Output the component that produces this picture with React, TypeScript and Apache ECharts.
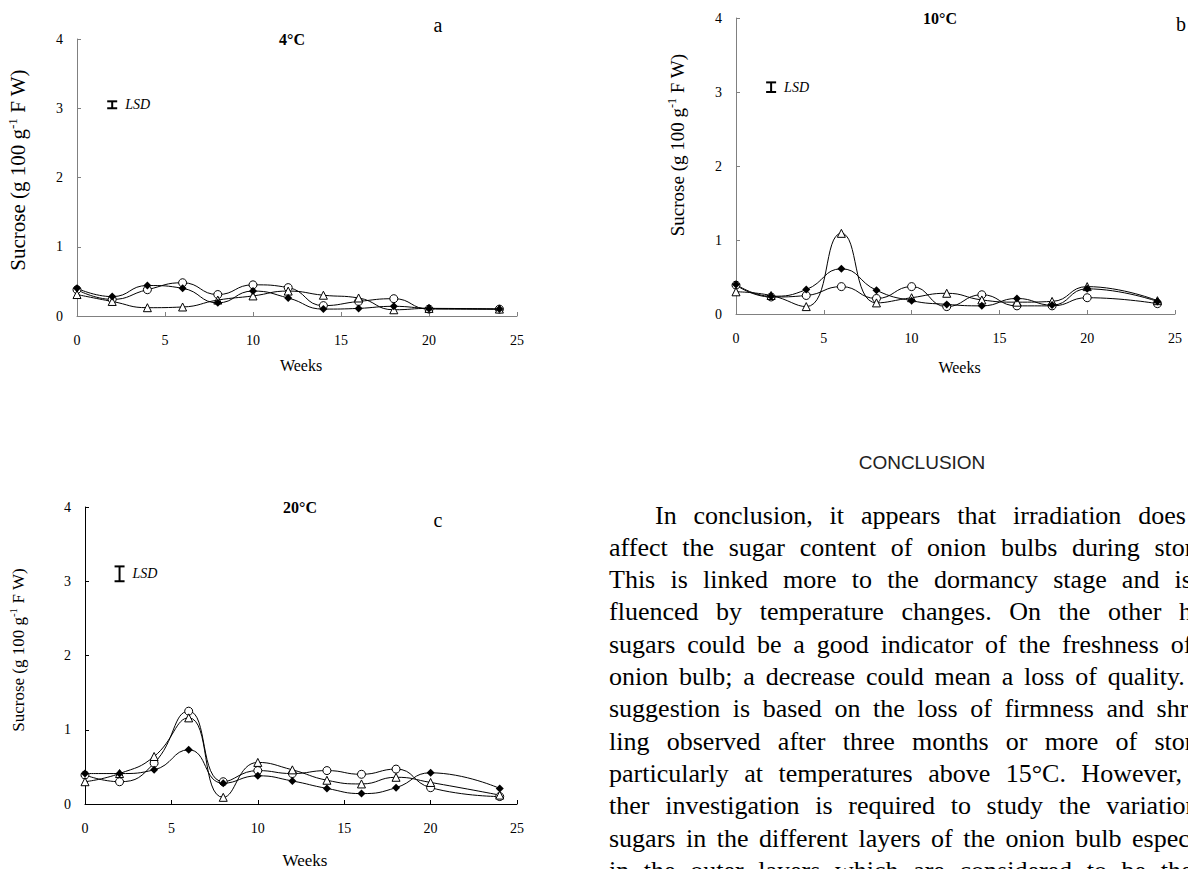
import React, { useEffect, useRef } from "react";
import * as echarts from "echarts";

// ---- data ----
const WEEKS = [0, 2, 4, 6, 8, 10, 12, 14, 16, 18, 20, 24];

// Panel a (4°C)
const A_DIAMOND = [0.40, 0.28, 0.44, 0.40, 0.19, 0.36, 0.26, 0.10, 0.11, 0.14, 0.11, 0.10];
const A_CIRCLE = [0.38, 0.24, 0.38, 0.48, 0.31, 0.45, 0.41, 0.15, 0.21, 0.25, 0.10, 0.10];
const A_TRIANGLE = [0.31, 0.21, 0.12, 0.13, 0.23, 0.29, 0.36, 0.30, 0.26, 0.09, 0.11, 0.10];

// Panel b (10°C)
const B_DIAMOND = [0.40, 0.24, 0.33, 0.61, 0.32, 0.18, 0.13, 0.11, 0.21, 0.12, 0.34, 0.17];
const B_CIRCLE = [0.39, 0.23, 0.25, 0.37, 0.21, 0.37, 0.10, 0.26, 0.11, 0.11, 0.22, 0.14];
const B_TRIANGLE = [0.30, 0.25, 0.10, 1.09, 0.15, 0.22, 0.28, 0.19, 0.16, 0.17, 0.37, 0.18];

// Panel c (20°C)
const C_DIAMOND = [0.41, 0.41, 0.46, 0.73, 0.28, 0.38, 0.31, 0.21, 0.14, 0.22, 0.42, 0.21];
const C_CIRCLE = [0.39, 0.30, 0.55, 1.25, 0.30, 0.45, 0.41, 0.45, 0.40, 0.47, 0.22, 0.10];
const C_TRIANGLE = [0.30, 0.41, 0.64, 1.16, 0.09, 0.56, 0.46, 0.32, 0.27, 0.36, 0.29, 0.12];

// LSD bars: [week, low, high]
const LSD_A = [2, 3.0, 3.1];
const LSD_B = [2, 3.0, 3.13];
const LSD_C = [2, 3.0, 3.2];

const PANEL_TITLES = ["4°C", "10°C", "20°C"];
const PANEL_LETTERS = ["a", "b", "c"];
const X_NAME = "Weeks";

const PARA_HEADING = "CONCLUSION";
const PARA_LINES = [
  "In conclusion, it appears that irradiation does not",
  "affect the sugar content of onion bulbs during storage.",
  "This is linked more to the dormancy stage and is in-",
  "fluenced by temperature changes. On the other hand,",
  "sugars could be a good indicator of the freshness of the",
  "onion bulb; a decrease could mean a loss of quality. The",
  "suggestion is based on the loss of firmness and shrivel-",
  "ling observed after three months or more of storage,",
  "particularly at temperatures above 15°C. However, fur-",
  "ther investigation is required to study the variation of",
  "sugars in the different layers of the onion bulb especially",
  "in the outer layers which are considered to be the re-",
];

// ---- layout ----
const W = 1188;
const H = 869;
const SERIF = "Liberation Serif";
const SANS = "Liberation Sans";

const PANELS = [
  { left: 77, top: 39, width: 440, height: 277, axisColor: "#808080",
    diamond: A_DIAMOND, circle: A_CIRCLE, triangle: A_TRIANGLE, lsd: LSD_A,
    titleX: 292, titleY: 39, letterX: 438, letterY: 25, xNameY: 365,
    yNameX: 18, yNameY: 170, yNameSize: 21, xNameSize: 16 },
  { left: 736, top: 18, width: 439, height: 296, axisColor: "#808080",
    diamond: B_DIAMOND, circle: B_CIRCLE, triangle: B_TRIANGLE, lsd: LSD_B,
    titleX: 940, titleY: 18, letterX: 1181, letterY: 24, xNameY: 367,
    yNameX: 677, yNameY: 145, yNameSize: 19, xNameSize: 16 },
  { left: 85, top: 507, width: 432, height: 297, axisColor: "#000000",
    diamond: C_DIAMOND, circle: C_CIRCLE, triangle: C_TRIANGLE, lsd: LSD_C,
    titleX: 300, titleY: 507, letterX: 438, letterY: 520, xNameY: 860,
    yNameX: 18, yNameY: 650, yNameSize: 17, xNameSize: 17 },
];

const PARA_LEFT = 609;
const PARA_INDENT = 46;
const PARA_RIGHT = 1236;
const PARA_TOP = 515;
const PARA_LH = 32.3;
const PARA_FONT = 26;

function buildParagraph(): any[] {
  const canvas = document.createElement("canvas");
  const ctx = canvas.getContext("2d") as CanvasRenderingContext2D;
  ctx.font = `${PARA_FONT}px '${SERIF}'`;
  const els: any[] = [];
  PARA_LINES.forEach((line, i) => {
    const words = line.split(" ");
    const left = i === 0 ? PARA_LEFT + PARA_INDENT : PARA_LEFT;
    const widths = words.map((w) => ctx.measureText(w).width);
    const total = widths.reduce((a, b) => a + b, 0);
    const gap = words.length > 1 ? (PARA_RIGHT - left - total) / (words.length - 1) : 0;
    let x = left;
    words.forEach((w, k) => {
      if (x < W) {
        els.push({
          type: "text",
          x,
          y: PARA_TOP + i * PARA_LH,
          silent: true,
          style: {
            text: w,
            fontFamily: SERIF,
            fontSize: PARA_FONT,
            fill: "#000",
            align: "left",
            verticalAlign: "middle",
          },
        });
      }
      x += widths[k] + gap;
    });
  });
  els.push({
    type: "text",
    x: 922,
    y: 462,
    silent: true,
    style: {
      text: PARA_HEADING,
      fontFamily: SANS,
      fontSize: 19,
      fill: "#222",
      align: "center",
      verticalAlign: "middle",
    },
  });
  return els;
}

function buildOption(): any {
  const grid: any[] = [];
  const xAxis: any[] = [];
  const yAxis: any[] = [];
  const series: any[] = [];
  const graphic: any[] = [];

  PANELS.forEach((p, i) => {
    grid.push({ left: p.left, top: p.top, width: p.width, height: p.height, containLabel: false });
    xAxis.push({
      type: "value",
      gridIndex: i,
      min: 0,
      max: 25,
      interval: 5,
      axisLine: { show: true, lineStyle: { color: p.axisColor, width: 1 } },
      axisTick: { show: true, inside: true, length: 4, lineStyle: { color: p.axisColor } },
      axisLabel: { color: "#000", fontFamily: SERIF, fontSize: 14, margin: 17 },
      splitLine: { show: false },
    });
    yAxis.push({
      type: "value",
      gridIndex: i,
      min: 0,
      max: 4,
      interval: 1,
      axisLine: { show: true, lineStyle: { color: p.axisColor, width: 1 } },
      axisTick: { show: true, inside: true, length: 4, lineStyle: { color: p.axisColor } },
      axisLabel: { color: "#000", fontFamily: SERIF, fontSize: 14, margin: 14 },
      splitLine: { show: false },
    });

    const common = {
      type: "line",
      xAxisIndex: i,
      yAxisIndex: i,
      smooth: 0.5,
      lineStyle: { color: "#000", width: 1 },
      z: 3,
    };
    series.push({
      ...common,
      name: "circle" + i,
      data: WEEKS.map((w, k) => [w, p.circle[k]]),
      symbol: "circle",
      symbolSize: 8,
      itemStyle: { color: "#fff", borderColor: "#000", borderWidth: 1 },
    });
    series.push({
      ...common,
      name: "triangle" + i,
      data: WEEKS.map((w, k) => [w, p.triangle[k]]),
      symbol: "triangle",
      symbolSize: 8,
      itemStyle: { color: "#fff", borderColor: "#000", borderWidth: 1 },
    });
    series.push({
      ...common,
      name: "diamond" + i,
      data: WEEKS.map((w, k) => [w, p.diamond[k]]),
      symbol: "diamond",
      symbolSize: 8,
      itemStyle: { color: "#000", borderColor: "#000", borderWidth: 0 },
    });
    series.push({
      type: "custom",
      xAxisIndex: i,
      yAxisIndex: i,
      data: [p.lsd],
      renderItem: (params: any, api: any) => {
        const x = api.value(0);
        const lo = api.coord([x, api.value(1)]);
        const hi = api.coord([x, api.value(2)]);
        const cx = lo[0];
        const half = 5;
        return {
          type: "group",
          children: [
            { type: "line", shape: { x1: cx, y1: lo[1], x2: cx, y2: hi[1] }, style: { stroke: "#000", lineWidth: 2 } },
            { type: "line", shape: { x1: cx - half, y1: lo[1], x2: cx + half, y2: lo[1] }, style: { stroke: "#000", lineWidth: 2 } },
            { type: "line", shape: { x1: cx - half, y1: hi[1], x2: cx + half, y2: hi[1] }, style: { stroke: "#000", lineWidth: 2 } },
            {
              type: "text",
              x: cx + 13,
              y: (lo[1] + hi[1]) / 2,
              style: {
                text: "LSD",
                fontFamily: SERIF,
                fontStyle: "italic",
                fontSize: 14,
                fill: "#000",
                align: "left",
                verticalAlign: "middle",
              },
            },
          ],
        };
      },
      z: 4,
    });

    graphic.push({
      type: "text", x: p.titleX, y: p.titleY, silent: true,
      style: { text: PANEL_TITLES[i], fontFamily: SERIF, fontWeight: "bold", fontSize: 16, fill: "#000", align: "center", verticalAlign: "middle" },
    });
    graphic.push({
      type: "text", x: p.letterX, y: p.letterY, silent: true,
      style: { text: PANEL_LETTERS[i], fontFamily: SERIF, fontSize: 20, fill: "#000", align: "center", verticalAlign: "middle" },
    });
    graphic.push({
      type: "text", x: p.left + p.width / 2 + 4, y: p.xNameY, silent: true,
      style: { text: X_NAME, fontFamily: SERIF, fontSize: p.xNameSize, fill: "#000", align: "center", verticalAlign: "middle" },
    });
    graphic.push({
      type: "text", x: p.yNameX, y: p.yNameY, rotation: Math.PI / 2, silent: true,
      style: {
        text: "{n|Sucrose (g 100 g}{s|-1}{n| F W)}",
        align: "center",
        verticalAlign: "middle",
        rich: {
          n: { fontFamily: SERIF, fontSize: p.yNameSize, fill: "#000", lineHeight: p.yNameSize + 4 },
          s: { fontFamily: SERIF, fontSize: Math.round(p.yNameSize * 0.62), fill: "#000", verticalAlign: "top", lineHeight: p.yNameSize + 4 },
        },
      },
    });
  });

  buildParagraph().forEach((e) => graphic.push(e));

  return {
    animation: false,
    backgroundColor: "#fff",
    grid,
    xAxis,
    yAxis,
    series,
    graphic,
  };
}

export default function App() {
  const ref = useRef<HTMLDivElement>(null);
  useEffect(() => {
    if (!ref.current) return;
    const chart = echarts.init(ref.current, undefined, { renderer: "svg", width: W, height: H });
    chart.setOption(buildOption());
    return () => chart.dispose();
  }, []);
  return (
    <div
      ref={ref}
      style={{ position: "fixed", left: 0, top: 0, width: W, height: H, overflow: "hidden", background: "#fff" }}
    />
  );
}
